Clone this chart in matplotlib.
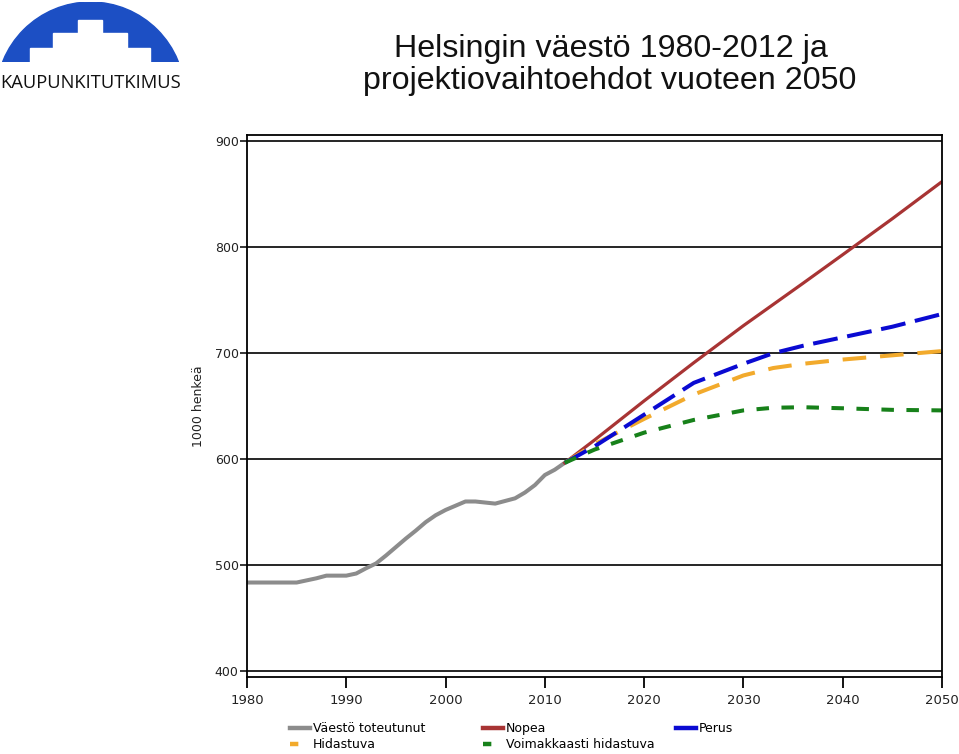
import numpy as np
import matplotlib
matplotlib.use("Agg")
from matplotlib import pyplot as plt
from matplotlib import patches
from matplotlib.lines import Line2D

plt.rcParams['font.family'] = ['DejaVu Sans']
plt.rcParams['lines.scale_dashes'] = False

# toteutunut väestö (1000 henkeä)
years_hist = [1980, 1985, 1987, 1988, 1990, 1991, 1992, 1993, 1994, 1995, 1996,
              1997, 1998, 1999, 2000, 2001, 2002, 2003, 2004, 2005, 2006, 2007,
              2008, 2009, 2010, 2011, 2012]
pop_hist = [483.5, 483.5, 487.5, 490, 490, 492, 497, 501.5, 509, 517, 525,
            532.5, 540.5, 547, 552, 556, 560, 560, 559, 558, 560.5, 563,
            568.5, 575.5, 585, 590, 596.5]

# projektiot
years_proj = [2012, 2015, 2020, 2025, 2030, 2033, 2036, 2040, 2045, 2050]
nopea = [596.5, 618, 655, 691, 726, 746, 766, 793, 827, 862]
perus = [596.5, 612, 642, 672, 690, 700, 707, 715, 725, 737]
hidastuva = [596.5, 614, 638, 661, 679, 686, 690, 694, 698, 702]
voimakkaasti = [596.5, 609, 625, 637, 646, 648.5, 649, 648, 646.5, 646]

xticks = list(range(1980, 2051, 10))
yticks = [400, 500, 600, 700, 800, 900]

c_gray = '#8c8c8c'
c_red = '#a83434'
c_blue = '#0a0ad2'
c_orange = '#f2aa2c'
c_green = '#17811a'

W, H = 959, 754
fig = plt.figure(figsize=(W / 100, H / 100), dpi=100)

# logo
lax = fig.add_axes([2 / W, 1 - 62 / H, 177 / W, 60 / H])
lax.set_xlim(2, 179)
lax.set_ylim(62, 2)
lax.axis('off')
dome = patches.Circle((90.5, 96.5), 94.5, color='#1c4fc4', clip_on=True)
lax.add_patch(dome)
for x0, x1, y0 in [(78, 102, 20), (53, 127, 33), (30, 150, 48)]:
    lax.add_patch(patches.Rectangle((x0, y0), x1 - x0, 62 - y0, color='white'))
fig.text(91 / W, 1 - 83 / H, 'KAUPUNKITUTKIMUS', ha='center', va='center',
         fontsize=13.2, family='Open Sans', color='#111111')

# otsikko
fig.text(611 / W, 1 - 57 / H, 'Helsingin väestö 1980-2012 ja', ha='center',
         va='baseline', fontsize=23.2, family='Liberation Sans', color='#111111')
fig.text(610 / W, 1 - 89 / H, 'projektiovaihtoehdot vuoteen 2050', ha='center',
         va='baseline', fontsize=23.2, family='Liberation Sans', color='#111111')

ax = fig.add_axes([247 / W, 1 - 677 / H, 695 / W, 542 / H])
ax.set_xlim(1980, 2050)
ax.set_ylim(394.3, 906)

ax.plot(years_hist, pop_hist, color=c_gray, lw=2.9, solid_capstyle='butt')
ax.plot(years_proj, nopea, color=c_red, lw=2.3)
ax.plot(years_proj, hidastuva, color=c_orange, lw=2.9, dashes=(17, 10))
ax.plot(years_proj, perus, color=c_blue, lw=2.9, dashes=(18, 7))
ax.plot(years_proj, voimakkaasti, color=c_green, lw=2.9, dashes=(9, 9))

ax.set_yticks(yticks)
ax.set_xticks(xticks)
ax.yaxis.grid(True, color='black', lw=1.2)
ax.set_axisbelow(True)
for s in ax.spines.values():
    s.set_linewidth(1.3)
    s.set_color('black')
ax.tick_params(axis='y', direction='out', length=5, width=1.1, pad=1,
               labelsize=9, labelcolor='#222222')
ax.tick_params(axis='x', direction='out', length=8, width=1.3, pad=4,
               labelsize=9.5, labelcolor='#222222')
ax.set_ylabel('1000 henkeä', fontsize=9, color='#222222', labelpad=7)

# selite
legend_cols = [
    (290, [Line2D([], [], color=c_gray, lw=3.2), Line2D([], [], color=c_orange, lw=3.2, dashes=(6, 20))],
     ['Väestö toteutunut', 'Hidastuva']),
    (483, [Line2D([], [], color=c_red, lw=3.2), Line2D([], [], color=c_green, lw=3.2, dashes=(6, 20))],
     ['Nopea', 'Voimakkaasti hidastuva']),
    (676, [Line2D([], [], color=c_blue, lw=3.2)], ['Perus']),
]
for x0, hs, ls in legend_cols:
    fig.legend(hs, ls, loc='upper left', bbox_to_anchor=(x0 / W, 1 - 722 / H),
               frameon=False, fontsize=9, borderpad=0, borderaxespad=0,
               handlelength=1.6, handletextpad=0.25, labelspacing=0.25)

fig.savefig('out.png', dpi=100)
